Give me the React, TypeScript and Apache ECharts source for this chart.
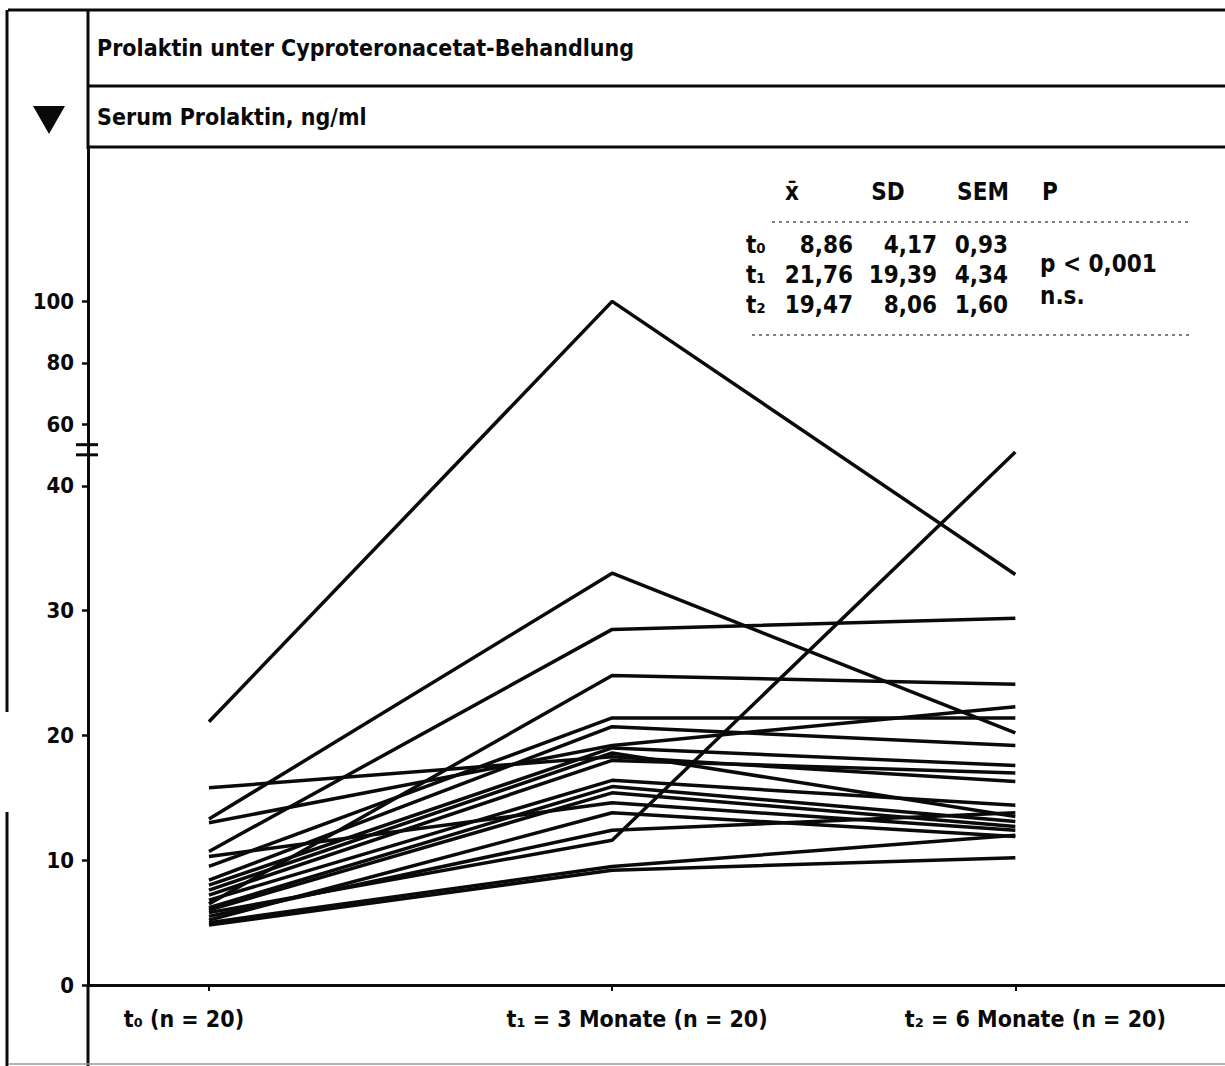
import React, { useEffect, useRef } from "react";
import * as echarts from "echarts";

// Time points on the x axis
const timePoints = ["t₀ (n = 20)", "t₁ = 3 Monate (n = 20)", "t₂ = 6 Monate (n = 20)"];

// Serum prolactin (ng/ml) per patient at each time point
const t0Values = [21.1, 13.3, 10.7, 6.5, 15.8, 13.0, 5.8, 4.8, 5.0, 9.5, 8.4, 8.0, 7.6, 7.2, 6.8, 6.2, 6.0, 10.3, 5.2, 5.5];
const t1Values = [100, 33.0, 28.5, 24.8, 18.3, 19.2, 11.6, 9.2, 9.5, 21.4, 20.7, 19.0, 18.6, 18.0, 16.4, 15.9, 15.4, 14.6, 13.8, 12.4];
const t2Values = [32.9, 20.2, 29.4, 24.1, 16.3, 22.3, 51.0, 10.2, 12.0, 21.4, 19.2, 17.6, 13.5, 17.0, 14.4, 13.1, 12.7, 12.4, 11.9, 13.8];

// Axis ticks below and above the scale break
const lowerTicks = [0, 10, 20, 30, 40];
const upperTicks = [60, 80, 100];

// Summary statistics table
const statLabels = ["t₀", "t₁", "t₂"];
const meanValues = ["8,86", "21,76", "19,47"];
const sdValues = ["4,17", "19,39", "8,06"];
const semValues = ["0,93", "4,34", "1,60"];
const pValues = ["p < 0,001", "n.s."];
const statHeaders = ["x̄", "SD", "SEM", "P"];

const TITLE = "Prolaktin unter Cyproteronacetat-Behandlung";
const SUBTITLE = "Serum Prolaktin, ng/ml";

// Above 40 ng/ml the scale is compressed; the break is marked at about 50–53 ng/ml
const BREAK_AT = 40;
const UPPER_RATIO = 0.2465;
const BREAK_MARKS = [53.4, 50.1];
const toAxis = (v: number) => (v <= BREAK_AT ? v : BREAK_AT + (v - BREAK_AT) * UPPER_RATIO);
const fromAxis = (a: number) => (a <= BREAK_AT + 1e-6 ? a : BREAK_AT + (a - BREAK_AT) / UPPER_RATIO);

const FONT = "'DejaVu Sans Condensed', 'Liberation Sans Narrow', 'DejaVu Sans', sans-serif";
const INK = "#0a0a0a";

export default function App() {
  const ref = useRef<HTMLDivElement>(null);

  useEffect(() => {
    if (!ref.current) return;
    const chart = echarts.init(ref.current, null, { renderer: "svg" });

    const series = t0Values.map((v0, i) => ({
      type: "line" as const,
      silent: true,
      symbol: "none",
      data: [
        [0, toAxis(v0)],
        [1, toAxis(t1Values[i])],
        [2, toAxis(t2Values[i])],
      ],
      lineStyle: { color: INK, width: 3.5 },
      z: 3,
    }));

    const yTicks = [...lowerTicks, ...upperTicks].map(toAxis);

    const text = (t: string, x: number, y: number, size: number, align = "left") => ({
      type: "text",
      x,
      y,
      silent: true,
      style: {
        text: t,
        fill: INK,
        fontSize: size,
        fontWeight: "bold",
        fontFamily: FONT,
        align,
        verticalAlign: "middle",
      },
    });

    const line = (x1: number, y1: number, x2: number, y2: number, w = 3, dash?: number[], color = INK) => ({
      type: "line",
      silent: true,
      shape: { x1, y1, x2, y2 },
      style: { stroke: color, lineWidth: w, lineDash: dash },
    });

    const rowY = [245, 275, 305];
    const tableTexts: any[] = [];
    tableTexts.push(text(statHeaders[0], 792, 192, 24, "center"));
    tableTexts.push(text(statHeaders[1], 888, 192, 24, "center"));
    tableTexts.push(text(statHeaders[2], 983, 192, 24, "center"));
    tableTexts.push(text(statHeaders[3], 1042, 192, 24, "left"));
    statLabels.forEach((lab, i) => {
      tableTexts.push(text(lab, 746, rowY[i], 24, "left"));
      tableTexts.push(text(meanValues[i], 853, rowY[i], 24, "right"));
      tableTexts.push(text(sdValues[i], 937, rowY[i], 24, "right"));
      tableTexts.push(text(semValues[i], 1008, rowY[i], 24, "right"));
    });
    tableTexts.push(text(pValues[0], 1040, 264, 24, "left"));
    tableTexts.push(text(pValues[1], 1040, 296, 24, "left"));

    const frame = [
      line(8, 10, 1225, 10, 3),
      line(7, 10, 7, 712, 3),
      line(7, 812, 7, 1066, 3),
      line(88, 10, 88, 149, 3),
      line(88, 985, 88, 1066, 3),
      line(88, 86, 1225, 86, 3),
      line(88, 147, 1225, 147, 3),
      line(8, 1064, 1225, 1064, 1.5, undefined, "#999"),
      line(772, 222, 1188, 222, 1.5, [3, 4], "#555"),
      line(752, 335, 1190, 335, 1.5, [3, 4], "#555"),
      {
        type: "polygon",
        silent: true,
        shape: { points: [[33, 106], [65, 106], [49, 134]] },
        style: { fill: INK },
      },
      text(TITLE, 97, 48, 23, "left"),
      text(SUBTITLE, 97, 117, 23, "left"),
    ];

    chart.setOption({
      animation: false,
      backgroundColor: "#ffffff",
      grid: { left: 88, right: 0, top: 149, bottom: 81, containLabel: false },
      xAxis: {
        type: "value",
        min: -0.3,
        max: 2.52,
        splitLine: { show: false },
        axisLine: { show: true, onZero: false, lineStyle: { color: INK, width: 3 } },
        axisTick: { show: true, customValues: [0, 1, 2], length: 6, lineStyle: { color: INK, width: 2 } },
        axisLabel: {
          show: true,
          customValues: [0, 1, 2],
          formatter: (v: number) => {
            const i = Math.round(v);
            return `{p${i}|${timePoints[i] ?? ""}}`;
          },
          color: INK,
          fontSize: 23,
          fontWeight: "bold",
          fontFamily: FONT,
          margin: 22,
          rich: {
            p0: { fontSize: 23, fontWeight: "bold", fontFamily: FONT, color: INK, padding: [0, 50, 0, 0] },
            p1: { fontSize: 23, fontWeight: "bold", fontFamily: FONT, color: INK, padding: [0, 0, 0, 50] },
            p2: { fontSize: 23, fontWeight: "bold", fontFamily: FONT, color: INK, padding: [0, 0, 0, 40] },
          },
        },
      },
      yAxis: {
        type: "value",
        min: 0,
        max: 67,
        splitLine: { show: false },
        axisLine: { show: true, onZero: false, lineStyle: { color: INK, width: 3 } },
        axisTick: { show: true, customValues: yTicks, length: 6, lineStyle: { color: INK, width: 2.5 } },
        axisLabel: {
          show: true,
          customValues: yTicks,
          formatter: (v: number) => String(Math.round(fromAxis(v))),
          color: INK,
          fontSize: 22,
          fontWeight: "bold",
          fontFamily: FONT,
          margin: 14,
        },
      },
      series,
      graphic: [...frame, ...tableTexts],
    });

    // Scale-break marks across the y axis
    const marks = BREAK_MARKS.map((v) => {
      const p = chart.convertToPixel({ gridIndex: 0 }, [-0.3, toAxis(v)]) as number[];
      return line(p[0] - 12, p[1], p[0] + 10, p[1], 3);
    });
    chart.setOption({ graphic: [...frame, ...tableTexts, ...marks] });

    return () => chart.dispose();
  }, []);

  return (
    <div
      ref={ref}
      style={{ position: "fixed", left: 0, top: 0, width: 1225, height: 1066, background: "#fff" }}
    />
  );
}
